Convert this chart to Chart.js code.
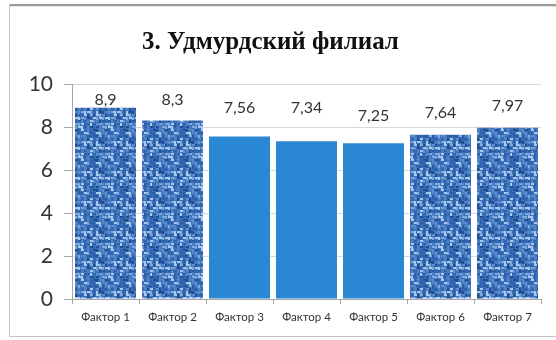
<!DOCTYPE html>
<html>
<head>
<meta charset="utf-8">
<script src="https://cdn.jsdelivr.net/npm/chart.js@4"></script>
<style>
  html, body { margin: 0; padding: 0; background: #fff; overflow: hidden; }
  canvas { display: block; }
</style>
</head>
<body>
<canvas id="chart" width="556" height="340"></canvas>
<script>
var categories = ['Фактор 1', 'Фактор 2', 'Фактор 3', 'Фактор 4', 'Фактор 5', 'Фактор 6', 'Фактор 7'];
var scores = [8.9, 8.3, 7.56, 7.34, 7.25, 7.64, 7.97];
var textured = [true, true, false, false, false, true, true];
var yTicks = [0, 2, 4, 6, 8, 10];

// lift of each value label above its bar, px
var labelLift = [8, 21, 29, 33, 27, 22, 22];

// woven canvas-like texture for the highlighted bars
function makeTexture() {
  var raw = document.createElement('canvas');
  raw.width = 30;
  raw.height = 30;
  var r = raw.getContext('2d');
  r.fillStyle = '#3d72b9';
  r.fillRect(0, 0, 30, 30);
  var seed = 11;
  function next() {
    seed = (seed * 9301 + 49297) % 233280;
    return seed / 233280;
  }
  var shades = ['#1f4d8f', '#2a5ca3', '#4d84c8', '#7faadf', '#a8c8ef', '#2f63ad', '#5b8fd0'];
  for (var y = 0; y < 30; y += 3) {
    for (var x = 0; x < 30; x += 3) {
      r.fillStyle = shades[Math.floor(next() * shades.length)];
      if (((x + y) / 3) % 2 === 0) r.fillRect(x, y, 3, 2);
      else r.fillRect(x, y, 2, 3);
    }
  }
  // soften the weave a little
  var tile = document.createElement('canvas');
  tile.width = 30;
  tile.height = 30;
  var t = tile.getContext('2d');
  t.filter = 'blur(0.6px)';
  for (var dx = -30; dx <= 30; dx += 30) {
    for (var dy = -30; dy <= 30; dy += 30) {
      t.drawImage(raw, dx, dy);
    }
  }
  return t.createPattern(tile, 'repeat');
}

var ctx = document.getElementById('chart').getContext('2d');
var texture = makeTexture();

// outer frame: top, left and bottom edges
var frame = {
  id: 'frame',
  beforeDraw: function(chart) {
    var c = chart.ctx;
    c.save();
    c.fillStyle = '#9a9a9a';
    c.fillRect(9, 4, chart.width - 9, 2);
    c.fillStyle = '#e4e4e4';
    c.fillRect(10, 6, chart.width - 10, 1);
    c.fillStyle = '#c4c4c4';
    c.fillRect(9, 4, 1, 333);
    c.fillRect(9, 336, chart.width - 9, 1);
    c.restore();
  }
};

var valueLabels = {
  id: 'valueLabels',
  afterDatasetsDraw: function(chart) {
    var c = chart.ctx;
    var meta = chart.getDatasetMeta(0);
    c.save();
    c.font = '16px Lato';
    c.fillStyle = '#333';
    c.textAlign = 'center';
    c.textBaseline = 'middle';
    meta.data.forEach(function(bar, i) {
      var txt = String(scores[i]).replace('.', ',');
      c.fillText(txt, bar.x, bar.y - labelLift[i]);
    });
    c.restore();
  }
};

new Chart(ctx, {
  type: 'bar',
  data: {
    labels: categories,
    datasets: [{
      data: scores,
      backgroundColor: textured.map(function(t) { return t ? texture : '#2a87d3'; }),
      borderWidth: 0,
      barPercentage: 0.91,
      categoryPercentage: 1
    }]
  },
  options: {
    responsive: false,
    animation: false,
    layout: { padding: { left: 0, right: 15, top: 0, bottom: 0 } },
    plugins: {
      legend: { display: false },
      tooltip: { enabled: false },
      title: {
        display: true,
        text: '3. Удмурдский филиал',
        color: '#111',
        font: { family: 'Liberation Serif', size: 25, weight: 'bold' },
        padding: { top: 28, bottom: 26 }
      }
    },
    scales: {
      x: {
        grid: { display: true, drawOnChartArea: false, tickLength: 5, color: '#a6a6a6' },
        border: { color: '#a6a6a6' },
        ticks: { color: '#333', font: { family: 'Lato', size: 11.5 }, padding: 6, maxRotation: 0 },
        afterFit: function(scale) { scale.height = 41; }
      },
      y: {
        min: 0,
        max: 10,
        afterBuildTicks: function(scale) {
          scale.ticks = yTicks.map(function(v) { return { value: v }; });
        },
        grid: { color: '#d9d9d9', tickColor: '#a6a6a6', tickLength: 8 },
        border: { color: '#a6a6a6' },
        ticks: { color: '#333', font: { family: 'Lato', size: 21 }, padding: 11 },
        afterFit: function(scale) { scale.width = 72; }
      }
    }
  },
  plugins: [frame, valueLabels]
});
</script>
</body>
</html>
